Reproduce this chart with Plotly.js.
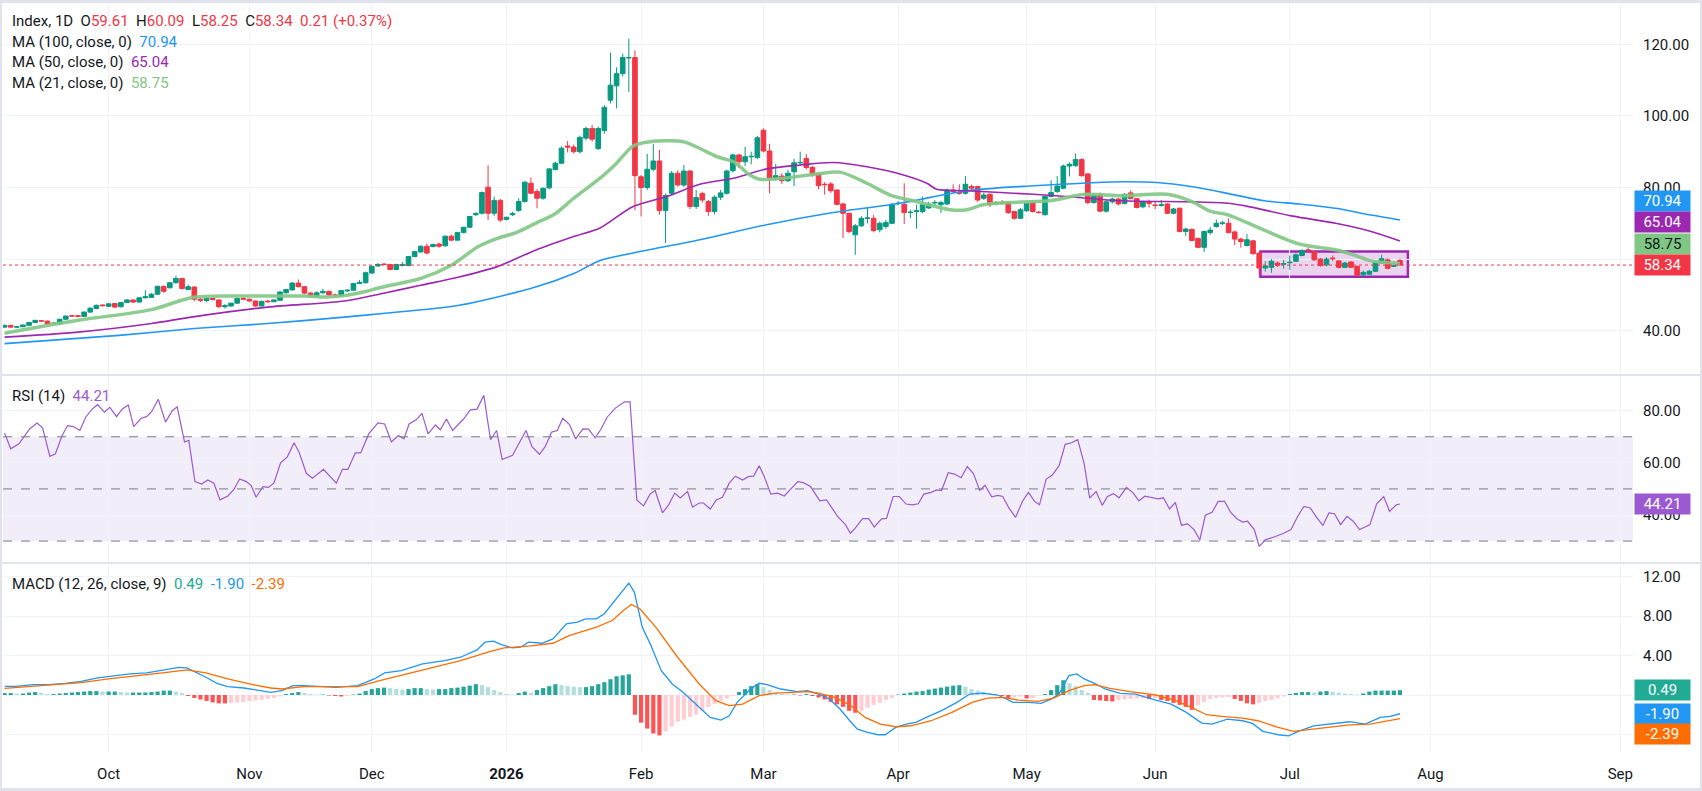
<!DOCTYPE html>
<html><head><meta charset="utf-8">
<script src="https://cdn.plot.ly/plotly-3.0.1.min.js"></script>
<style>
html,body{margin:0;padding:0;background:#fff;}
#wrap{position:relative;width:1702px;height:791px;overflow:hidden;}
#chart{position:absolute;left:0;top:0;width:1702px;height:791px;}
#frame{position:absolute;left:0;top:0;width:1702px;height:791px;box-sizing:border-box;border:2px solid #e0e3eb;border-bottom-width:3px;border-top-width:3px;pointer-events:none;}
</style></head>
<body><div id="wrap"><div id="chart"></div><div id="frame"></div></div>
<script>
// ---------- DATA ----------
const open = [
41.0,41.5,41.0,41.1,41.5,42.3,42.8,42.7,42.0,41.9,
43.2,44.2,44.2,44.0,45.2,46.2,47.2,46.8,47.6,46.7,
47.9,48.6,48.0,49.2,49.3,50.2,52.4,52.0,53.4,54.6,
51.5,52.2,48.8,48.4,49.0,48.6,46.7,46.9,47.7,49.0,
48.8,48.3,46.9,48.3,48.1,48.5,50.6,51.4,53.3,52.3,
50.5,49.6,50.6,51.0,50.0,49.7,51.1,51.3,53.2,53.4,
56.1,58.1,58.6,58.5,57.1,58.2,58.2,60.7,62.0,63.6,
63.5,64.2,63.7,66.4,65.3,67.4,68.9,72.4,72.8,80.1,
72.8,76.4,71.1,72.4,73.6,76.1,81.2,78.9,77.0,79.9,
85.0,86.8,91.6,91.3,90.0,93.8,96.5,90.9,95.9,104.4,
108.4,111.8,116.2,116.3,83.0,80.0,85.1,87.4,73.6,78.4,
84.0,80.7,84.6,74.7,78.3,76.1,73.3,77.3,78.4,84.7,
89.1,87.2,88.6,88.4,96.0,90.2,82.6,83.2,81.9,84.4,
86.9,88.1,85.6,83.8,80.9,81.0,79.3,75.4,72.8,66.8,
69.3,71.4,71.4,68.2,69.1,70.0,75.5,75.3,73.0,73.3,
73.3,74.3,75.7,75.2,75.4,79.3,78.6,78.4,80.3,80.3,
77.0,78.1,75.6,75.8,75.8,73.3,71.4,73.5,75.8,73.1,
72.4,77.5,78.9,79.8,86.0,86.1,87.8,83.8,75.8,77.9,
73.4,76.0,76.8,75.5,78.5,76.9,74.6,75.8,75.1,75.0,
75.4,72.8,74.2,67.7,68.3,65.8,63.3,67.4,69.1,70.0,
70.0,67.6,65.6,63.8,65.1,61.7,57.5,57.7,58.9,58.6,
59.0,59.4,61.0,62.6,62.1,60.0,58.4,60.3,59.5,57.7,
59.2,58.0,55.6,55.8,56.6,58.9,59.8,58.0,59.61];
const high = [
41.7,41.6,41.3,41.7,42.5,43.0,42.9,42.8,42.3,43.3,
44.2,44.3,44.3,45.4,46.5,47.3,47.3,47.7,47.7,48.0,
48.8,48.7,49.3,51.3,50.5,52.6,52.6,53.6,55.4,54.8,
52.9,52.4,49.2,49.3,49.3,48.7,47.4,47.8,49.2,49.4,
49.0,48.4,48.4,48.6,48.8,51.0,51.7,53.6,54.3,52.4,
50.9,51.0,51.7,51.2,50.4,51.3,51.5,53.4,54.2,56.5,
58.2,58.9,58.9,58.6,58.7,59.2,60.9,62.3,63.8,64.3,
64.3,64.6,66.6,66.8,67.6,69.0,72.1,73.1,78.9,86.2,
77.5,76.8,71.8,73.2,77.0,81.7,82.8,79.5,80.0,85.4,
87.2,91.5,93.0,92.0,94.5,97.0,97.5,97.0,103.0,117.7,
113.6,117.4,121.6,118.3,83.5,89.4,92.1,90.5,78.3,84.6,
84.8,86.3,84.9,79.3,78.8,76.5,77.8,79.3,85.0,89.5,
89.4,91.4,90.0,94.4,96.5,92.2,86.6,84.0,85.0,88.0,
90.0,89.3,86.0,84.0,81.5,81.5,79.5,75.8,73.0,69.8,
72.0,74.3,72.3,70.5,71.0,75.6,76.2,81.2,73.8,75.2,
77.5,76.0,76.5,76.3,79.7,80.9,80.9,83.2,80.8,80.5,
78.5,78.4,76.2,76.5,76.0,73.5,74.3,76.0,76.0,73.5,
77.8,82.0,83.2,86.4,87.0,89.5,88.2,84.0,78.3,78.6,
76.6,77.2,77.0,78.4,79.2,77.1,76.3,76.6,76.2,76.5,
75.6,74.3,74.4,68.8,68.6,66.0,68.0,69.0,71.0,70.6,
71.4,68.0,66.0,67.0,65.4,61.9,59.4,60.0,59.3,59.8,
61.0,61.6,62.8,63.3,62.3,60.3,60.5,61.0,59.7,59.2,
59.4,58.2,56.8,57.0,59.3,61.2,60.2,59.4,60.09];
const low = [
40.8,40.9,40.8,41.0,41.3,42.2,42.5,41.7,41.8,41.7,
43.0,44.0,43.9,43.9,45.0,46.0,46.8,46.6,46.4,46.5,
47.8,47.8,47.9,49.0,49.2,50.0,50.6,51.8,53.2,51.5,
51.3,48.2,48.0,48.0,48.5,46.3,46.2,46.7,47.5,48.6,
48.1,46.7,46.8,47.9,48.0,48.4,50.4,51.2,52.1,50.2,
49.4,49.4,50.3,49.7,49.2,49.5,50.9,51.2,53.0,53.2,
55.9,57.8,58.3,56.9,57.0,58.0,58.0,60.5,61.9,61.3,
63.3,63.2,63.5,65.0,65.2,67.2,68.7,72.0,72.5,70.9,
72.0,70.4,70.8,72.0,73.2,75.8,78.2,74.2,76.6,79.5,
84.8,86.5,89.8,89.5,89.5,93.2,92.8,90.5,95.0,103.5,
102.1,111.0,106.7,73.6,71.9,79.3,84.5,72.4,64.5,78.0,
80.2,80.2,74.0,74.0,75.8,72.1,72.5,76.5,78.0,84.2,
85.4,86.0,86.5,87.9,89.8,78.4,82.0,81.0,81.5,80.4,
86.0,85.0,83.0,79.5,78.0,78.5,75.0,65.9,67.2,61.2,
69.0,70.0,67.5,67.5,68.5,69.8,75.0,69.8,71.4,68.5,
72.8,74.0,75.0,72.9,75.0,78.5,78.0,78.0,79.3,76.0,
76.5,74.6,75.0,75.2,72.6,71.0,71.2,73.2,73.0,72.8,
72.2,77.2,78.5,79.5,83.1,85.8,83.0,75.3,75.5,73.2,
73.0,75.5,75.0,75.3,76.7,74.2,74.2,74.4,74.0,74.6,
72.6,72.5,67.5,66.5,65.0,63.0,62.0,66.8,68.8,69.5,
67.2,63.9,63.2,63.5,61.3,55.5,56.5,56.2,57.8,57.3,
57.0,59.2,60.8,62.0,59.5,57.9,58.0,59.5,57.4,57.5,
57.5,55.2,55.2,55.6,56.4,58.7,57.2,57.8,58.25];
const close = [
41.5,41.0,41.1,41.6,42.3,42.9,42.7,41.9,42.1,43.2,
44.1,44.1,44.0,45.2,46.3,47.1,47.0,47.5,46.6,47.9,
48.6,48.0,49.2,49.5,50.2,52.4,51.0,53.4,54.6,51.8,
52.3,48.8,48.5,49.1,48.7,46.7,47.0,47.7,49.0,48.8,
48.3,46.9,48.2,48.1,48.6,50.8,51.5,53.3,52.3,50.5,
49.7,50.6,51.0,50.0,49.8,51.2,51.3,53.2,53.5,56.2,
58.0,58.5,58.5,57.1,58.5,58.4,60.7,62.1,63.6,61.7,
64.1,63.6,66.4,65.3,67.4,68.9,71.9,72.7,78.6,72.8,
76.4,70.9,71.7,72.7,76.1,81.5,78.4,77.0,79.8,85.2,
86.8,91.0,91.3,90.0,94.0,96.5,93.5,96.5,102.4,108.6,
111.8,116.3,116.3,83.3,80.0,85.1,87.4,73.6,77.8,84.0,
80.7,84.6,74.7,77.2,76.5,73.3,77.3,78.5,84.6,89.1,
87.2,88.6,88.7,93.9,90.2,82.6,83.3,81.9,84.0,86.9,
87.0,85.6,83.5,80.5,80.8,79.1,75.3,72.8,67.7,69.3,
71.4,71.5,68.0,70.0,70.2,75.3,75.6,73.0,73.1,73.5,
75.2,75.4,75.8,75.8,79.3,78.9,78.4,80.9,79.8,76.5,
77.9,75.2,75.7,75.7,73.0,71.4,73.8,75.6,73.3,73.0,
77.5,78.6,80.4,86.0,86.5,87.8,83.3,75.8,77.9,73.4,
76.0,76.8,75.4,78.1,76.9,74.4,76.0,75.6,75.0,75.2,
72.8,74.0,67.7,68.4,65.2,63.3,67.7,68.1,70.0,70.1,
67.4,65.6,64.9,65.4,61.5,57.5,58.1,59.4,58.3,58.7,
59.1,61.2,62.4,62.4,59.8,58.2,60.0,60.1,57.7,58.9,
57.7,55.5,56.3,56.6,59.0,60.1,57.4,58.13,58.34];
const changeText = "0.21 (+0.37%)";

// moving averages (read at sample bars)
const ma21X = [0,12,24,30.5,37,43,49,52.4,55.5,58.6,61.75,68,73,77.4,80.5,83.6,86.75,89.9,93,97.3,100,102.7,105.5,110.9,113.6,116.4,119.1,121.8,123.4,127.3,132.7,136.5,140.9,144.7,149,154.5,157.2,159.9,165.4,170.8,176.6,182.5,190,194.1,197,200,205.8,211.6,217.5,220.4,223.3,228];
const ma21Y = [39.3,42.9,45.9,49.2,49.7,49.7,49.7,49.4,49.8,50.8,52.2,54.6,58.3,63.5,65.8,67.4,70.0,72.6,77.0,82.6,86.8,91.6,92.8,92.8,90.9,88.6,87.2,83.5,82.3,82.6,83.8,84.3,81.2,77.9,76.1,73.8,73.8,75.2,75.9,76.3,78.1,77.7,78.1,76.0,73.4,72.3,68.1,64.2,62.6,61.2,59.5,58.75];
const ma50X = [0,12,24,30.5,43,55.5,61.75,68,74.25,80.5,86.75,93,97.3,102.7,108.2,113.6,119.1,124.5,130,135.4,140.9,146.3,150.7,152.3,157.2,168.1,173.5,182.5,194.1,200,203.5,210.5,217.5,223.3,228];
const ma50Y = [38.2,39.6,42.0,43.8,46.6,48.3,50.4,52.7,55.0,57.9,62.5,66.3,68.7,74.7,77.5,80.9,82.6,85.2,86.3,87.0,85.8,83.8,81.2,79.5,79.1,78.1,77.5,76.3,76.0,75.6,74.6,72.0,70.0,67.7,65.04];
const ma100X = [0,18.7,31,43,55.5,61.75,74.25,86.75,93,97.3,102.7,113.6,124.5,135.4,146.3,157.2,168.1,176,182.5,188.3,194.1,200,205.8,211.6,217.5,223.3,228];
const ma100Y = [36.4,38.7,40.6,42.0,43.8,44.8,47.1,52.2,56.0,59.6,61.7,65.4,69.6,73.0,75.6,79.1,80.5,81.2,81.6,81.4,80.2,78.3,76.3,75.4,74.2,72.3,70.94];

// RSI (14)
const rsiX = [0,1.0,2.35,4.1,5.3,6.2,7.4,8.3,9.4,10.3,
11.2,12.3,13.25,14.3,15.2,16.3,17.2,18.3,19.2,20.2,
21.1,22.3,23.2,24.05,25.1,26.3,27.4,28.2,29.4,30.1,
31.1,32.2,33.2,34.2,35.2,36.5,37.5,38.4,39.5,40.3,
41.1,42.2,43.1,44.0,45.1,46.2,47.3,48.1,49.3,50.3,
52.1,54.2,55.2,56.1,57.3,58.2,59.5,61.0,62.1,63.2,
64.35,65.25,66.1,67.3,68.2,69.2,70.4,71.2,72.2,73.2,
75.0,76.1,77.2,78.3,79.4,80.4,81.3,83.0,85.2,86.2,
87.4,88.3,89.4,90.3,91.2,92.3,93.3,94.5,95.4,96.5,
97.4,98.45,99.8,101.3,102.2,103.3,104.4,105.5,106.3,107.5,
108.5,109.5,110.4,111.6,112.4,113.5,114.2,115.3,116.3,117.3,
118.4,119.4,120.6,121.5,122.4,123.3,124.1,125.2,126.3,127.4,
128.6,129.6,130.5,131.7,133.2,134.3,136.1,137.4,138.2,138.9,
140.2,141.2,142.1,143.3,144.1,145.2,146.2,147.3,148.3,149.3,
150.2,151.4,152.3,153.1,154.2,155.2,156.3,157.3,158.3,159.35,
160.2,161.3,162.3,163.1,164.1,165.2,166.3,167.3,168.3,169.1,
170.2,171.2,172.3,173.3,174.35,175.35,176.4,177.3,178.35,179.35,
180.2,181.2,182.1,183.3,184.35,185.35,186.3,187.3,188.5,189.35,
190.35,191.3,192.3,193.3,194.35,195.3,196.2,197.3,198.3,199.35,
200.35,201.4,202.3,203.1,204.2,205.0,206.0,207.0,208.0,209.0,
210.2,211.3,212.3,213.35,214.35,215.4,216.4,217.3,218.3,219.35,
220.35,221.4,222.3,223.1,224.2,225.35,226.3,227.4,228];
const rsiY = [71.4,65.4,67.3,73.0,75.3,73.4,62.5,63.5,70.5,74.3,
73.9,72.4,77.5,80.6,82.3,79.4,81.3,77.7,80.6,82.2,
73.9,77.1,77.7,79.7,84.4,75.6,80.0,81.5,68.0,68.6,
52.8,51.9,53.4,52.2,45.8,47.3,49.9,53.8,52.8,51.3,
46.8,50.9,50.6,52.2,60.0,62.3,67.7,64.2,56.0,54.1,
57.5,52.2,57.5,57.5,63.8,63.8,71.1,75.3,74.9,68.0,
70.5,69.2,74.9,76.6,79.0,71.1,74.6,72.7,76.8,72.4,
76.8,80.3,80.6,85.9,68.9,72.4,61.3,62.9,72.4,66.1,
63.3,66.1,71.8,72.4,77.1,74.7,69.2,73.0,72.9,69.6,
72.7,77.5,81.0,83.4,83.4,45.8,43.5,48.1,49.4,40.8,
43.9,48.4,46.5,49.0,43.0,44.6,44.6,42.3,45.8,46.8,
52.2,54.9,53.4,54.7,54.9,58.9,54.9,48.0,48.4,47.3,
50.3,52.8,52.4,50.9,45.4,45.8,39.5,36.3,33.0,34.7,
38.6,38.6,35.4,38.5,38.7,47.1,47.1,44.2,43.9,44.3,
48.0,48.7,49.6,49.4,56.2,55.7,54.3,58.6,55.9,49.4,
51.4,47.0,47.5,47.1,42.7,39.1,45.2,48.7,45.2,43.9,
53.8,55.3,58.9,67.1,67.7,68.9,59.7,46.5,49.0,43.7,
47.1,48.2,46.6,50.6,48.6,45.4,47.2,46.8,46.2,46.6,
42.3,44.8,36.1,36.6,34.4,30.5,39.9,41.0,45.2,45.2,
41.0,38.5,37.3,37.6,34.4,28.0,30.5,31.2,32.0,33.0,
34.4,39.5,43.3,42.7,39.2,36.0,40.8,40.5,36.3,39.5,
37.6,34.4,35.4,36.3,44.3,47.1,41.4,43.9,44.21];

// MACD (12, 26, close, 9)
const macdX = [0,1.9,4.6,7.2,9.9,12.5,15.2,17.85,20.5,23.2,
25.8,28.5,29.8,31.1,32.9,34.7,36.45,39.1,41.8,43.5,
45.3,47.1,48.85,51.5,54.2,57.7,60.4,62.1,64.8,68.3,
71.9,74.5,77.2,78.5,79.85,81.2,82.95,84.3,85.6,87.8,
89.6,91.8,93.6,94.9,96.7,98.0,100.2,102.0,102.9,104.2,
105.5,107.3,109.1,110.85,113.5,115.3,117.05,118.4,119.7,121.9,
123.3,124.6,126.8,129.5,131.2,133.0,134.8,136.5,138.1,139.35,
141.0,142.7,143.9,145.6,147.3,148.9,150.6,153.1,155.6,157.7,
159.8,162.3,164.8,167.3,169.35,171.0,172.3,173.9,175.2,176.4,
178.1,179.8,182.3,184.8,188.1,190.6,193.1,195.6,197.3,199.8,
202.3,203.9,205.6,208.1,209.8,211.4,213.9,217.3,219.8,222.3,
224.8,226.4,228];
const macdY = [0.88,0.88,1.05,1.05,1.19,1.39,1.73,1.97,2.14,2.24,
2.54,2.81,2.75,2.37,1.80,1.19,0.85,0.71,0.44,0.27,
0.44,0.95,0.95,0.85,0.78,0.95,1.63,2.24,2.47,3.15,
3.49,3.83,4.58,5.36,5.46,5.12,4.78,4.85,5.36,5.25,
5.69,7.22,7.39,7.73,7.73,8.24,9.93,11.36,10.44,6.88,
5.19,2.47,1.12,0.27,-1.25,-2.27,-2.54,-2.10,-0.75,0.61,
1.19,1.05,0.61,0.34,0.44,0.10,-0.41,-1.42,-2.61,-3.46,
-3.80,-4.03,-4.03,-3.29,-2.95,-2.78,-2.27,-1.59,-0.75,0.10,
0.20,0.0,-0.75,-0.75,-0.85,-0.41,0.10,1.97,2.14,1.63,
1.19,0.61,0.17,0.10,-0.51,-0.92,-1.76,-2.85,-2.95,-2.44,
-2.61,-2.88,-3.69,-4.03,-4.14,-3.69,-3.12,-2.88,-2.71,-2.95,
-2.27,-2.17,-1.90];
const signalX = [0,3.7,8.1,12.5,17.0,21.4,25.8,29.8,32.9,36.45,
40.0,43.5,45.3,48.85,54.2,57.7,61.3,65.7,70.1,74.5,
79.0,81.6,86.05,89.6,92.25,96.7,99.3,101.1,102.4,103.8,
106.4,109.97,113.5,116.2,118.4,120.6,123.3,125.9,128.6,131.2,
133.0,135.65,138.1,140.6,143.1,145.6,148.1,151.4,154.8,158.1,
160.6,163.1,165.6,168.9,171.4,173.9,176.4,178.1,180.6,183.9,
188.1,191.4,193.9,196.4,198.9,202.3,204.8,208.1,210.6,213.1,
216.4,219.8,223.1,225.6,228];
const signalY = [0.68,0.85,1.02,1.25,1.63,1.97,2.24,2.54,2.24,1.63,
1.12,0.71,0.61,0.85,0.85,0.85,1.46,2.14,2.81,3.49,
4.34,4.78,4.98,5.25,6.03,6.88,7.56,8.58,9.19,8.75,
6.88,3.83,1.12,-0.58,-1.08,-0.92,-0.07,0.20,0.27,0.34,
0.20,-0.24,-1.0,-2.27,-2.95,-3.22,-3.12,-2.61,-1.76,-0.75,
-0.31,-0.24,-0.51,-0.64,-0.31,0.44,0.95,1.05,0.68,0.34,
0.0,-0.58,-1.25,-2.0,-2.17,-2.34,-2.61,-3.29,-3.69,-3.49,
-3.29,-3.02,-2.95,-2.68,-2.39];
const histY = [
0.2,0.2,0.15,0.15,0.25,0.3,0.2,0.1,0.1,0.15,
0.2,0.25,0.3,0.35,0.4,0.4,0.35,0.35,0.35,0.3,
0.25,0.25,0.25,0.25,0.3,0.35,0.45,0.45,0.35,0.2,
-0.1,-0.3,-0.45,-0.6,-0.75,-0.85,-0.85,-0.8,-0.75,-0.7,
-0.6,-0.55,-0.5,-0.4,-0.3,-0.15,0.1,0.2,0.3,0.2,
0.1,0.05,0.05,-0.05,-0.1,-0.15,-0.1,0.05,0.15,0.4,
0.6,0.7,0.75,0.7,0.6,0.55,0.6,0.7,0.7,0.6,
0.55,0.6,0.6,0.7,0.75,0.85,0.95,1.1,1.0,0.8,
0.5,0.3,0.1,0.05,0.2,0.35,0.2,0.5,0.7,0.9,
1.1,1.0,0.9,0.85,0.8,0.8,0.9,1.1,1.3,1.6,
1.9,2.0,2.1,-2.0,-2.8,-3.4,-3.9,-4.1,-3.7,-3.2,
-2.7,-2.5,-2.2,-2.0,-1.6,-1.2,-0.9,-0.6,-0.35,-0.1,
0.3,0.6,0.9,1.1,0.8,0.5,0.25,0.1,0.05,0.05,
-0.05,0.1,-0.1,-0.25,-0.45,-0.7,-0.95,-1.2,-1.6,-1.8,
-1.6,-1.3,-1.0,-0.8,-0.5,-0.3,0.05,0.15,0.25,0.35,
0.4,0.55,0.65,0.75,0.85,0.95,1.0,0.85,0.6,0.45,
0.3,0.15,0.05,-0.1,-0.3,-0.2,-0.15,-0.35,-0.3,-0.05,
0.1,0.5,1.0,1.5,1.2,0.9,0.5,0.2,-0.5,-0.55,
-0.6,-0.65,-0.5,-0.45,-0.4,-0.35,-0.3,-0.4,-0.3,-0.5,
-0.6,-0.8,-1.0,-1.2,-1.5,-1.0,-0.7,-0.4,-0.3,-0.25,
-0.2,-0.4,-0.6,-0.85,-0.95,-0.8,-0.6,-0.5,-0.35,-0.15,
0.1,0.2,0.3,0.3,0.25,0.35,0.4,0.3,0.25,0.15,
0.1,0.05,0.15,0.35,0.45,0.45,0.45,0.45,0.49];

// tick labels
const tickPos = [17,40,60,82,104,124,146,167,188,210,233,264];
const tickLabels = ['Oct','Nov','Dec','<b>2026</b>','Feb','Mar','Apr','May','Jun','Jul','Aug','Sep'];
const priceTicks = [40,60,80,100,120];
const priceTickText = ['40.00','','80.00','100.00','120.00'];   // 60.00 sits under the value labels
const rsiTicks = [40,60,80];
const rsiTickText = ['40.00','60.00','80.00'];
const macdTicks = [-4,0,4,8,12];
const macdTickText = ['','','4.00','8.00','12.00'];             // 0.00 / -4.00 sit under the value labels

// range box drawn on the last weeks
const boxBars = [205.2, 229.3];
const boxPrices = [55.1, 62.1];

// ---------- BUILD ----------
const bars = open.map((_, i) => i);
const last = a => a[a.length - 1];
const f2 = v => v.toFixed(2);

const UP = '#089981', DN = '#f23645';
const C21 = '#81c784', C50 = '#9c27b0', C100 = '#2196f3';
const CRSI = '#9c5ad2', CMACD = '#2196f3', CSIG = '#ff6d00', CHIST = '#22ab94';

const histColors = histY.map((h, i) => {
  const p = i > 0 ? histY[i - 1] : h;
  if (h >= 0) return h >= p ? '#26a69a' : '#b2dfdb';
  return h > p ? '#ffcdd2' : '#ff5252';
});

const traces = [
  {type:'scatter', mode:'lines', x:ma100X, y:ma100Y, xaxis:'x', yaxis:'y', line:{color:C100, width:1.6, shape:'spline', smoothing:0.8}, hoverinfo:'skip'},
  {type:'scatter', mode:'lines', x:ma50X, y:ma50Y, xaxis:'x', yaxis:'y', line:{color:C50, width:1.6, shape:'spline', smoothing:0.8}, hoverinfo:'skip'},
  {type:'scatter', mode:'lines', x:ma21X, y:ma21Y, xaxis:'x', yaxis:'y', line:{color:'rgba(129,199,132,0.9)', width:3.5, shape:'spline', smoothing:0.8}, hoverinfo:'skip'},
  {type:'candlestick', x:bars, open:open, high:high, low:low, close:close, xaxis:'x', yaxis:'y',
   increasing:{line:{color:UP, width:1}, fillcolor:UP}, decreasing:{line:{color:DN, width:1}, fillcolor:DN},
   whiskerwidth:0, hoverinfo:'skip'},
  {type:'scatter', mode:'lines', x:rsiX, y:rsiY, xaxis:'x', yaxis:'y2', line:{color:CRSI, width:1.2}, hoverinfo:'skip'},
  {type:'bar', x:bars, y:histY, xaxis:'x', yaxis:'y3', marker:{color:histColors, line:{width:0}}, width:0.68, hoverinfo:'skip'},
  {type:'scatter', mode:'lines', x:macdX, y:macdY, xaxis:'x', yaxis:'y3', line:{color:CMACD, width:1.3}, hoverinfo:'skip'},
  {type:'scatter', mode:'lines', x:signalX, y:signalY, xaxis:'x', yaxis:'y3', line:{color:CSIG, width:1.3}, hoverinfo:'skip'}
];

// layout geometry (pixels)
const W = 1702, H = 791, PL = 3, PR = 1633, PT = 3, PB = 752;
const py = v => (PB - v) / (PB - PT);
const px = v => (v - PL) / (PR - PL);
const SEP1 = 375, SEP2 = 563;
const GRID = '#f0f3fa';
const FONT = 'Roboto, "Liberation Sans", sans-serif';
const TXT = '#131722';

const axisCommon = {side:'right', anchor:'x', showgrid:true, gridcolor:GRID, zeroline:false, showline:false,
  ticks:'', tickmode:'array', tickfont:{size:15, color:TXT, family:FONT}, ticklabelstandoff:9, fixedrange:true};

const layout = {
  width:W, height:H, margin:{l:PL, r:W-PR, t:PT, b:H-PB},
  paper_bgcolor:'#ffffff', plot_bgcolor:'#ffffff', showlegend:false, hovermode:false,
  font:{family:FONT, size:15, color:TXT},
  bargap:0.3, boxgap:0.18, boxgroupgap:0.08,
  xaxis:{range:[-0.26, 266.08], tickmode:'array', tickvals:tickPos, ticktext:tickLabels, showgrid:true, gridcolor:GRID,
         zeroline:false, showline:false, ticks:'', anchor:'y3', rangeslider:{visible:false}, fixedrange:true,
         tickfont:{size:15, color:TXT, family:FONT}, ticklabelstandoff:11},
  yaxis:Object.assign({}, axisCommon, {domain:[py(SEP1), 1], range:[27.63, 131.54], tickvals:priceTicks, ticktext:priceTickText}),
  yaxis2:Object.assign({}, axisCommon, {domain:[py(SEP2), py(SEP1)], range:[21.59, 93.69], tickvals:rsiTicks, ticktext:rsiTickText}),
  yaxis3:Object.assign({}, axisCommon, {domain:[0, py(SEP2)], range:[-5.78, 13.39], tickvals:macdTicks, ticktext:macdTickText}),
  shapes:[
    {type:'rect', xref:'paper', yref:'y2', x0:0, x1:1, y0:30, y1:70, fillcolor:'rgba(126,87,194,0.1)', line:{width:0}, layer:'below'},
    {type:'line', xref:'paper', yref:'y2', x0:0, x1:1, y0:70, y1:70, line:{color:'#787b86', width:1, dash:'dash'}},
    {type:'line', xref:'paper', yref:'y2', x0:0, x1:1, y0:50, y1:50, line:{color:'#787b86', width:1, dash:'dash'}},
    {type:'line', xref:'paper', yref:'y2', x0:0, x1:1, y0:30, y1:30, line:{color:'#787b86', width:1, dash:'dash'}},
    {type:'rect', xref:'x', yref:'y', x0:boxBars[0], x1:boxBars[1], y0:boxPrices[0], y1:boxPrices[1],
     fillcolor:'rgba(156,39,176,0.2)', line:{color:'#9c27b0', width:2.5}, layer:'below'},
    {type:'line', xref:'paper', yref:'y', x0:0, x1:1, y0:last(close), y1:last(close), line:{color:DN, width:1, dash:'dot'}},
    {type:'line', xref:'paper', yref:'paper', x0:px(0), x1:px(W), y0:py(SEP1), y1:py(SEP1), line:{color:'#e0e3eb', width:2}},
    {type:'line', xref:'paper', yref:'paper', x0:px(0), x1:px(W), y0:py(SEP2), y1:py(SEP2), line:{color:'#e0e3eb', width:2}}
  ],
  annotations:[]
};

const red = s => `<span style="color:${DN}">${s}</span>`;
const col = (c, s) => `<span style="color:${c}">${s}</span>`;
const sp = '\u00a0\u00a0';
const n = close.length - 1;
const leftTexts = [
  {y:21.5, t:`Index, 1D${sp}O${red(f2(open[n]))}${sp}H${red(f2(high[n]))}${sp}L${red(f2(low[n]))}${sp}C${red(f2(close[n]))}${sp}${red(changeText)}`},
  {y:42, t:`MA (100, close, 0)${sp}${col(C100, f2(last(ma100Y)))}`},
  {y:62.3, t:`MA (50, close, 0)${sp}${col(C50, f2(last(ma50Y)))}`},
  {y:82.6, t:`MA (21, close, 0)${sp}${col(C21, f2(last(ma21Y)))}`},
  {y:396, t:`RSI (14)${sp}${col(CRSI, f2(last(rsiY)))}`},
  {y:584, t:`MACD (12, 26, close, 9)${sp}${col(CHIST, f2(last(histY)))}${sp}${col(CMACD, f2(last(macdY)))}${sp}${col(CSIG, f2(last(signalY)))}`}
];
leftTexts.forEach(o => layout.annotations.push({xref:'paper', yref:'paper', x:px(10), y:py(o.y), xanchor:'left', yanchor:'middle',
  text:o.t, showarrow:false, font:{size:15, color:TXT, family:FONT}}));

const valueLabels = [
  {ax:'y', v:last(ma100Y), bg:C100, fc:'#ffffff', sh:19},
  {ax:'y', v:last(ma50Y), bg:C50, fc:'#ffffff', sh:19},
  {ax:'y', v:last(ma21Y), bg:C21, fc:TXT, sh:20},
  {ax:'y', v:last(close), bg:DN, fc:'#ffffff', sh:0},
  {ax:'y2', v:last(rsiY), bg:CRSI, fc:'#ffffff', sh:0},
  {ax:'y3', v:last(histY), bg:CHIST, fc:'#ffffff', sh:0},
  {ax:'y3', v:last(macdY), bg:CMACD, fc:'#ffffff', sh:0},
  {ax:'y3', v:last(signalY), bg:CSIG, fc:'#ffffff', sh:-15}
];
valueLabels.forEach(o => layout.annotations.push({xref:'paper', yref:o.ax, x:1, y:o.v, xanchor:'left', yanchor:'middle',
  xshift:1, yshift:o.sh, text:f2(o.v), showarrow:false, bgcolor:o.bg, borderpad:0, width:55, height:20,
  font:{size:15, color:o.fc, family:FONT}}));

Plotly.newPlot('chart', traces, layout, {staticPlot:true, displayModeBar:false});
</script></body></html>
